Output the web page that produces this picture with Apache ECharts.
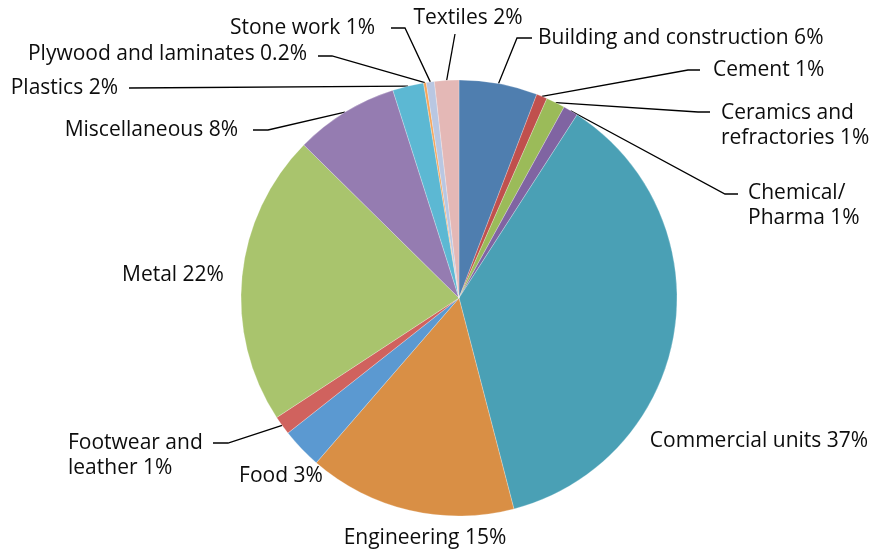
<!DOCTYPE html>
<html>
<head>
<meta charset="utf-8">
<script src="https://cdn.jsdelivr.net/npm/echarts@6/dist/echarts.min.js"></script>
<style>
  html, body { margin: 0; padding: 0; background: #fff; }
  #chart { width: 880px; height: 553px; }
</style>
</head>
<body>
<div id="chart"></div>
<script>
// Sector shares (%), clockwise from 12 o'clock
const sectors = [
  'Building and construction', 'Cement', 'Ceramics and\nrefractories', 'Chemical/\nPharma',
  'Commercial units', 'Engineering', 'Food', 'Footwear and\nleather', 'Metal',
  'Miscellaneous', 'Plastics', 'Plywood and laminates', 'Stone work', 'Textiles'
];
const shares = [5.8, 0.8, 1.4, 1.1, 36.8, 15.4, 3.0, 1.4, 21.6, 7.7, 2.3, 0.2, 0.6, 1.8];
const colors = [
  '#4f7eaf', '#c0504d', '#9bbb59', '#8064a2', '#4aa0b5', '#d98f45', '#5b99d1',
  '#d0625e', '#a9c46d', '#957cb1', '#5cb8d3', '#f5a55a', '#b9c7e2', '#e4b8b6'
];

// Label placement: text anchor [x, firstLineCenterY, align], optional leader knee and end
const labelPlacement = [
  { text: [538, 38, 'left'], knee: [517, 38], end: [532, 38] },
  { text: [713, 70, 'left'], knee: [688, 70], end: [700, 70] },
  { text: [721, 113, 'left'], knee: [698, 112], end: [710, 112] },
  { text: [748, 193, 'left'], knee: [725, 194], end: [738, 194] },
  { text: [759, 441, 'center'] },
  { text: [425, 538, 'center'] },
  { text: [281, 476, 'center'] },
  { text: [68, 443, 'left'], knee: [228, 443], end: [213, 443] },
  { text: [173, 275, 'center'] },
  { text: [238, 130, 'right'], knee: [268, 130], end: [253, 130] },
  { text: [118, 88, 'right'], knee: [129, 88], end: [129, 88] },
  { text: [307, 54, 'right'], knee: [332, 56], end: [318, 56] },
  { text: [375, 28, 'right'], knee: [405, 28], end: [391, 28] },
  { text: [468, 18, 'center'], knee: [455, 34], end: [455, 34] }
];

const LINE_H = 25.5;

function pctText(v) {
  return (v < 0.5 ? v.toFixed(1) : Math.round(v)) + '%';
}

const chart = echarts.init(document.getElementById('chart'), null, { renderer: 'canvas' });

chart.setOption({
  animation: false,
  color: colors,
  series: [{
    type: 'pie',
    center: [459, 298],
    radius: 218,
    startAngle: 90,
    clockwise: true,
    avoidLabelOverlap: false,
    itemStyle: { borderColor: 'rgba(255,255,255,0.6)', borderWidth: 0.4 },
    label: {
      show: true,
      position: 'outside',
      color: '#0d0d0d',
      fontFamily: '"Open Sans", sans-serif',
      fontSize: 21,
      lineHeight: LINE_H,
      formatter: p => p.name + ' ' + pctText(p.value)
    },
    labelLine: {
      show: true,
      length: 10,
      length2: 10,
      lineStyle: { color: '#000', width: 1.3 }
    },
    labelLayout: function (params) {
      const spec = labelPlacement[params.dataIndex];
      const out = {
        x: spec.text[0],
        y: spec.text[1] - LINE_H / 2,
        align: spec.text[2],
        verticalAlign: 'top'
      };
      if (spec.knee && params.labelLinePoints) {
        const start = params.labelLinePoints[0];
        out.labelLinePoints = [start, spec.knee, spec.end];
      }
      return out;
    },
    data: sectors.map((name, i) => {
      const item = { name: name, value: shares[i] };
      if (!labelPlacement[i].knee) item.labelLine = { show: false };
      return item;
    })
  }]
});
</script>
</body>
</html>
